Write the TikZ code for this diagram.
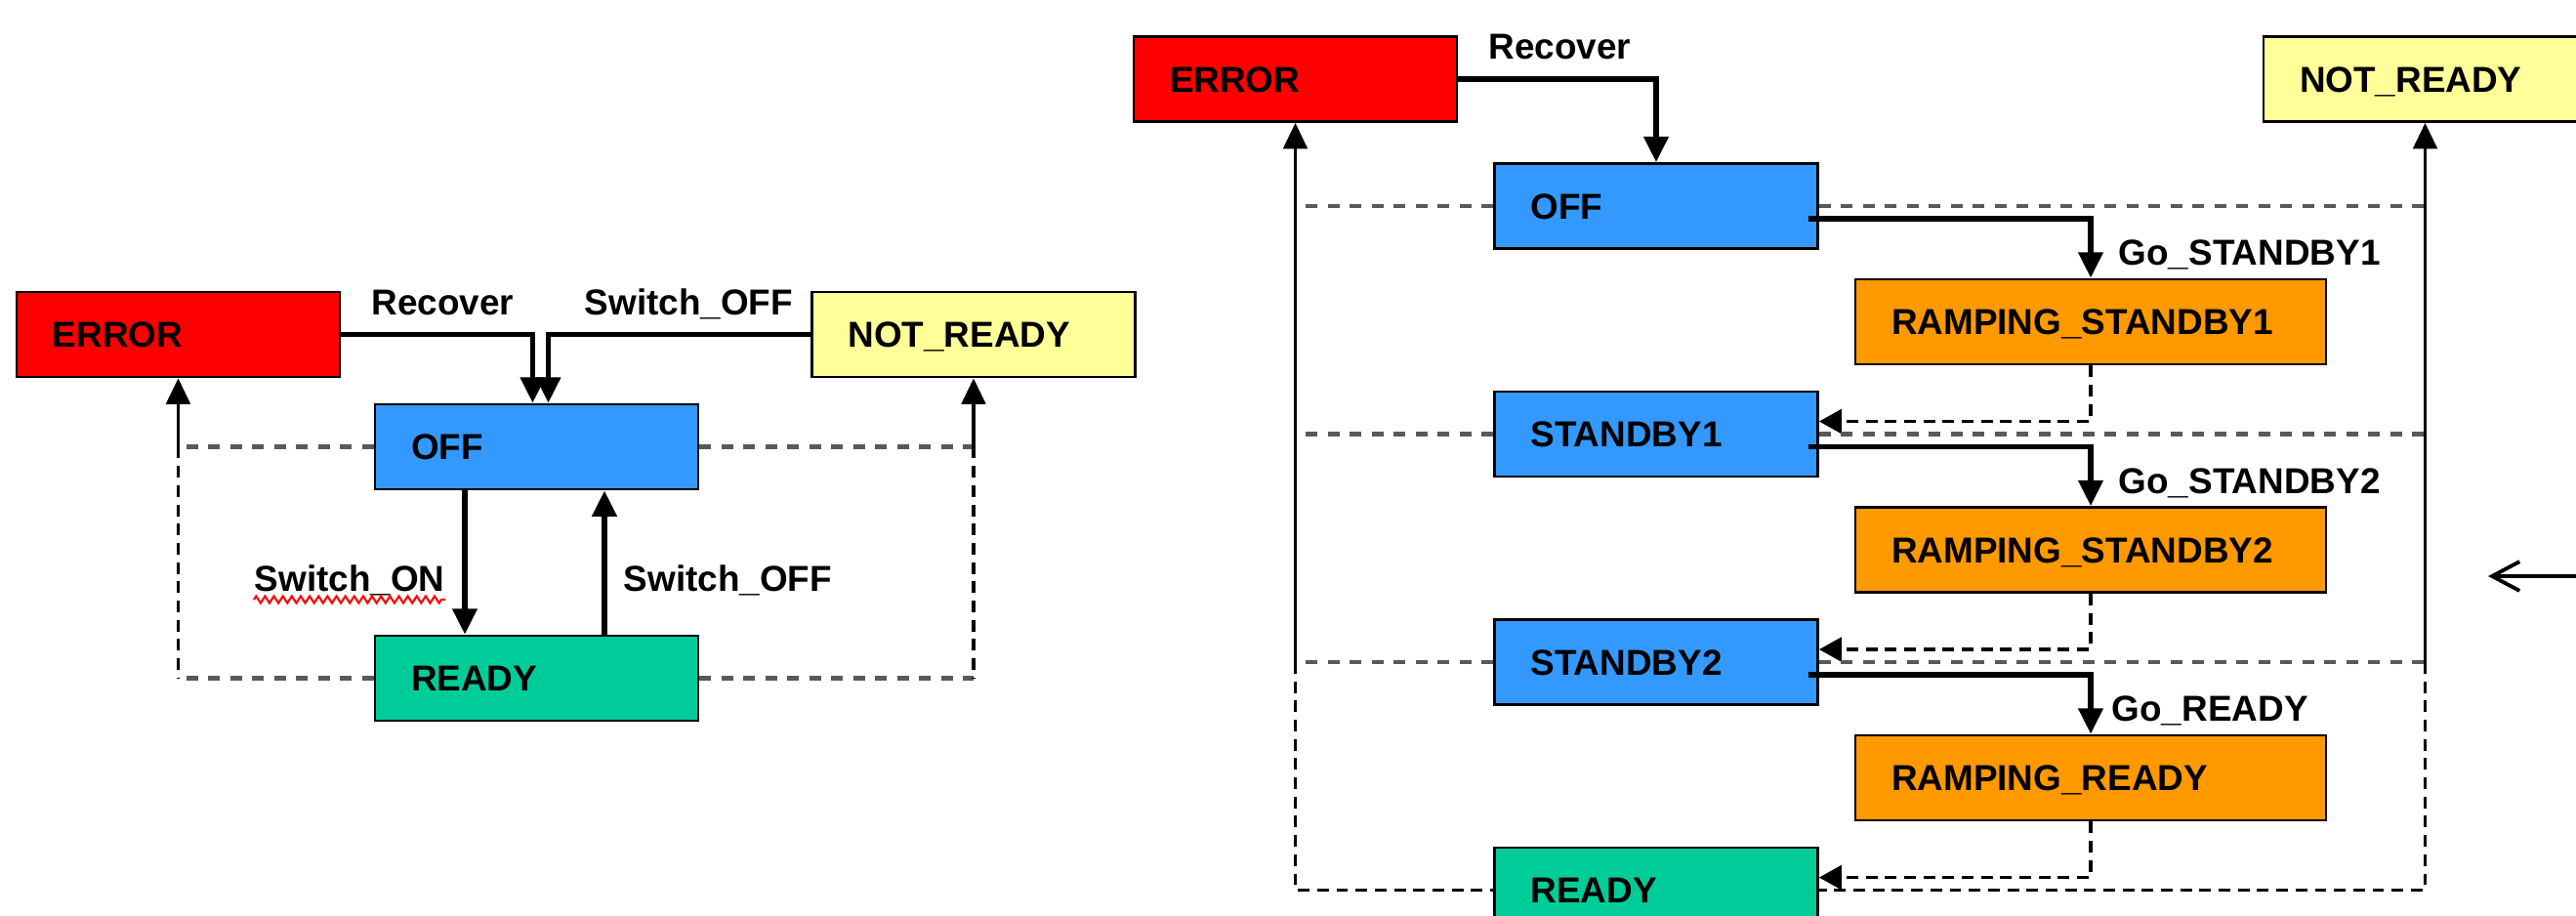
\documentclass[tikz,border=0pt]{standalone}
\usepackage{fontspec}
\setmainfont{Liberation Sans}
\usetikzlibrary{arrows.meta, positioning, calc, decorations.pathmorphing}
\definecolor{errcolor}{RGB}{255,0,0}
\definecolor{notreadycolor}{RGB}{255,255,153}
\definecolor{offcolor}{RGB}{51,153,255}
\definecolor{readycolor}{RGB}{0,204,153}
\definecolor{rampcolor}{RGB}{255,153,0}

\begin{document}
\begin{tikzpicture}[
    font=\fontsize{10.5}{12}\selectfont\bfseries,
    statebox/.style={rectangle, draw, line width=0.8pt, minimum height=0.87cm, text width=2.57cm, align=left, inner xsep=0.37cm, text height=7.6pt, text depth=0pt},
    rampbox/.style={statebox, text width=4.08cm, fill=rampcolor},
    evlabel/.style={inner sep=0pt, anchor=base west},
    trans/.style={-{Triangle[length=7.5pt,width=7pt]}, line width=1.6pt},
    fault/.style={-{Triangle[length=7.5pt,width=7pt]}, line width=0.9pt},
    hdash/.style={dash pattern=on 3.4pt off 3pt, line width=1.2pt, black!65},
    vdash/.style={dash pattern=on 3.4pt off 2.2pt, line width=0.9pt},
    settle/.style={vdash, -{Triangle[length=6.5pt,width=7pt]}}
]
\useasboundingbox (0,0) rectangle (26.38,-9.37);

% simple machine
\node[statebox, fill=errcolor] (errL) at (1.825,-3.425) {ERROR};
\node[statebox, fill=notreadycolor] (nrL) at (9.97,-3.425) {NOT\_READY};
\node[statebox, fill=offcolor] (offL) at (5.495,-4.575) {OFF};
\node[statebox, fill=readycolor, below=1.472cm of offL] (readyL) {READY};

\draw[trans] (errL.east) -| ([xshift=-0.04cm]offL.north);
\draw[trans] (nrL.west) -| ([xshift=0.12cm]offL.north);
\draw[trans] ([xshift=-0.735cm]offL.south) -- ([xshift=-0.735cm]readyL.north);
\draw[trans] ([xshift=0.695cm]readyL.north) -- ([xshift=0.695cm]offL.south);

\node[evlabel] (recL) at (3.80,-3.22) {Recover};
\node[evlabel] (swoffL) at (5.98,-3.22) {Switch\_OFF};
\node[evlabel] (swonL) at (2.60,-6.05) {Switch\_ON};
\node[evlabel] (swbackL) at (6.38,-6.05) {Switch\_OFF};
\draw[red, line width=0.6pt, decorate, decoration={zigzag, amplitude=1pt, segment length=2.6pt}]
  ([yshift=-0.09cm]swonL.base west) -- ([yshift=-0.09cm]swonL.base east);

\coordinate (eL) at (offL.west -| errL.south);
\coordinate (nL) at (offL.east -| nrL.south);
\draw[hdash] (offL.west) -- (eL);
\draw[hdash] (offL.east) -- (nL);
\draw[hdash] (readyL.west) -- (readyL.west -| eL);
\draw[hdash] (readyL.east) -- (readyL.east -| nL);
\draw[vdash] (eL) -- (readyL.west -| eL);
\draw[vdash] (nL) -- (readyL.east -| nL);
\draw[fault] (eL) -- (errL.south);
\draw[fault] (nL) -- (nrL.south);

% machine with ramping states
\node[statebox, fill=errcolor] (errR) at (13.265,-0.81) {ERROR};
\node[statebox, fill=notreadycolor] (nrR) at (24.835,-0.81) {NOT\_READY};
\node[statebox, fill=offcolor] (offR) at (16.96,-2.11) {OFF};
\node[statebox, fill=offcolor, below=1.437cm of offR] (sb1R) {STANDBY1};
\node[statebox, fill=offcolor, below=1.437cm of sb1R] (sb2R) {STANDBY2};
\node[statebox, fill=readycolor, below=1.437cm of sb2R] (readyR) {READY};
\node[rampbox] (rs1R) at (21.41,-3.295) {RAMPING\_STANDBY1};
\node[rampbox, below=1.437cm of rs1R] (rs2R) {RAMPING\_STANDBY2};
\node[rampbox, below=1.437cm of rs2R] (rrR) {RAMPING\_READY};

\draw[trans] (errR.east) -| (offR.north);
\node[evlabel] (recR) at (15.24,-0.60) {Recover};

\draw[trans] ([xshift=-0.11cm,yshift=-0.13cm]offR.east) -| (rs1R.north);
\draw[trans] ([xshift=-0.11cm,yshift=-0.13cm]sb1R.east) -| (rs2R.north);
\draw[trans] ([xshift=-0.11cm,yshift=-0.13cm]sb2R.east) -| (rrR.north);
\node[evlabel] (go1R) at ([xshift=0.28cm,yshift=0.13cm]rs1R.north) {Go\_STANDBY1};
\node[evlabel] (go2R) at ([xshift=0.28cm,yshift=0.13cm]rs2R.north) {Go\_STANDBY2};
\node[evlabel] (go3R) at ([xshift=0.21cm,yshift=0.13cm]rrR.north) {Go\_READY};

\draw[settle] (rs1R.south) |- ([yshift=0.13cm]sb1R.east);
\draw[settle] (rs2R.south) |- ([yshift=0.13cm]sb2R.east);
\draw[settle] (rrR.south) |- ([yshift=0.13cm]readyR.east);

\coordinate (eR) at (sb2R.west -| errR.south);
\coordinate (nR) at (sb2R.east -| nrR.south);
\foreach \s in {offR, sb1R, sb2R} {
  \draw[hdash] (\s.west) -- (\s.west -| eR);
  \draw[hdash] (\s.east) -- (\s.east -| nR);
}
\draw[vdash] (eR) |- (readyR.west);
\draw[vdash] (nR) |- (readyR.east);
\draw[fault] (eR) -- (errR.south);
\draw[fault] (nR) -- (nrR.south);

\coordinate (edgeIn) at (26.70,-5.90);
\coordinate (edgeTip) at (25.48,-5.90);
\draw[-{Straight Barb[length=8pt,width=8.5pt]}, line width=1.1pt] (edgeIn) -- (edgeTip);
\end{tikzpicture}
\end{document}
